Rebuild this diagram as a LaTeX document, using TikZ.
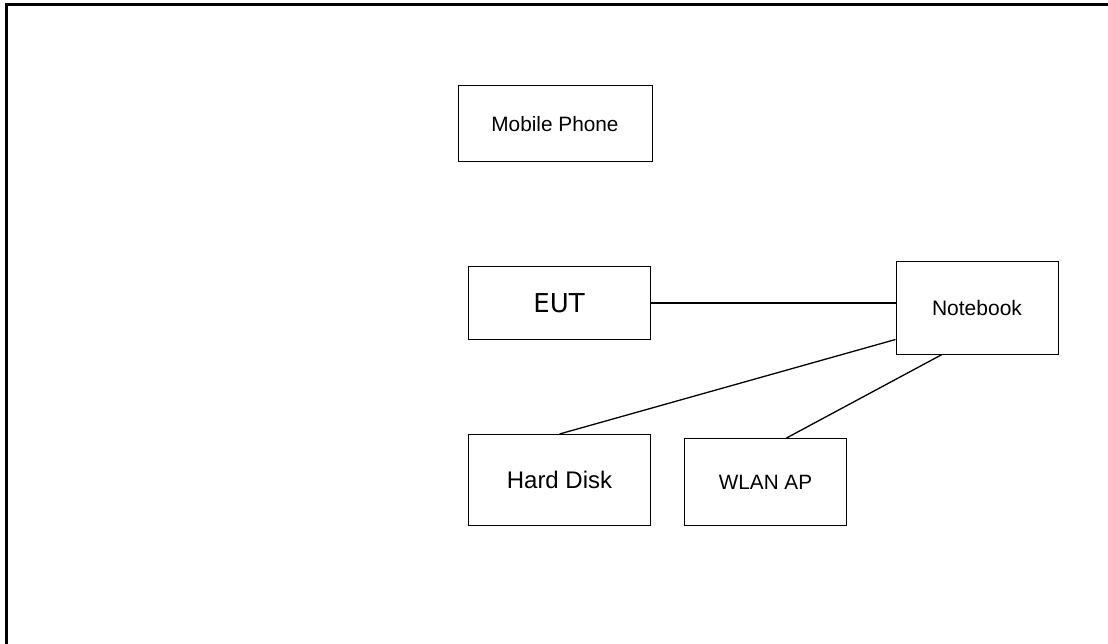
\documentclass[tikz,border=0pt]{standalone}
\usepackage{fontspec}
\setmainfont{Liberation Sans}
\newfontfamily\eutfont{DejaVu Sans}
\usetikzlibrary{calc}
\begin{document}
\begin{tikzpicture}[x=1pt,y=-1pt,
  box/.style={draw,line width=1pt,inner sep=0pt,align=center},
  link/.style={line width=1.3pt},
  frameline/.style={line width=2.5pt}]
\useasboundingbox (0,0) rectangle (1108,644);
\draw[frameline] (6.5,644) -- (6.5,4.5) -- (1108,4.5);
\node[box,minimum width=194pt,minimum height=76pt,font=\fontsize{20.8}{24}\selectfont] (mp) at (555,124) {Mobile Phone};
\node[box,minimum width=182pt,minimum height=72pt,font=\eutfont\fontsize{26}{30}\selectfont] (eut) at (559,303) {EUT};
\node[box,minimum width=162pt,minimum height=92pt,font=\fontsize{21}{25}\selectfont] (nb) at (977,308) {Notebook};
\node[box,minimum width=182pt,minimum height=91pt,font=\fontsize{24}{28}\selectfont] (hd) at (559.5,480) {Hard Disk};
\node[box,minimum width=162pt,minimum height=87pt,font=\fontsize{20.7}{24}\selectfont] (ap) at (765.5,482) {WLAN AP};
\draw[link] (eut.east) -- (eut.east -| nb.west);
\draw[link] (hd.north) -- ($(nb.south west)+(0,-15)$);
\draw[link] ($(ap.north)+(21,0)$) -- ($(nb.south)+(-35,0)$);
\end{tikzpicture}
\end{document}
